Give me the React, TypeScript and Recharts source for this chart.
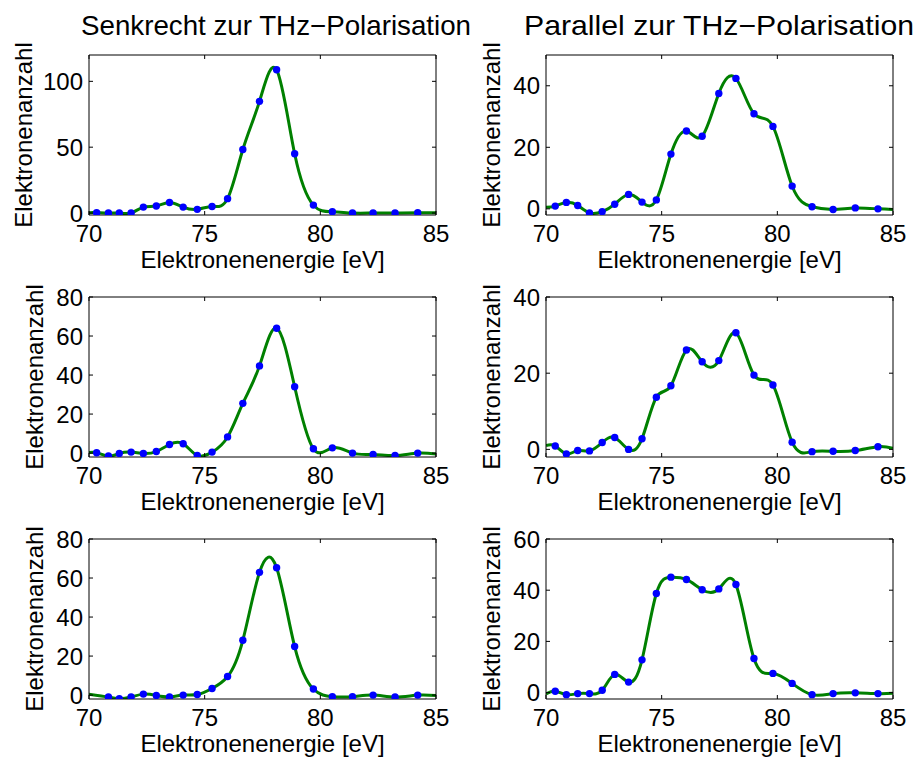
import React from 'react';
import { ComposedChart, Line, Scatter, XAxis, YAxis } from 'recharts';

// energy axis of the spectrometer (eV), left and right columns are calibrated slightly differently
const energyLeft = [70.33, 70.84, 71.31, 71.82, 72.35, 72.91, 73.48, 74.07, 74.68, 75.32, 75.99, 76.65, 77.37, 78.11, 78.89, 79.7, 80.52, 81.39, 82.28, 83.23, 84.21];
const energyRight = [70.4, 70.88, 71.37, 71.88, 72.43, 72.97, 73.57, 74.15, 74.77, 75.4, 76.07, 76.75, 77.47, 78.21, 78.99, 79.81, 80.64, 81.5, 82.41, 83.37, 84.35];

// electron counts, senkrecht (left column)
const senkrecht1 = [0.3, 0, 0, 0, 4.5, 5.3, 8, 4.5, 2.8, 5, 10.9, 48.2, 84.8, 108.8, 45, 6, 1, 0, 0, 0, 0.2];
const senkrecht2 = [0.2, -1.5, -0.2, 0.5, -0.2, 0.8, 4.4, 4.8, -1.2, 0.5, 8.3, 25.5, 44.7, 64, 34, 2.2, 2.7, 0, -0.7, -1.2, 0];
const senkrecht3 = [-1, -1.9, -1, 0.5, -0.2, -1, 0, 0.3, 3.4, 9.5, 28.1, 62.9, 65.3, 24.9, 3.1, -0.8, -0.8, 0, -1, 0];

// electron counts, parallel (right column)
const parallel1 = [0.9, 2.1, 1.1, -1.3, -0.9, 1.5, 4.7, 2.2, 2.9, 17.8, 25.3, 23.6, 37.5, 42.4, 30.9, 26.8, 7.4, 0.7, -0.2, 0.3, 0];
const parallel2 = [0.9, -1.2, -0.3, -0.4, 1.8, 3.1, 0, 2.8, 13.7, 16.7, 26.1, 23, 23.3, 30.6, 19.5, 16.9, 1.9, -0.6, -0.5, -0.3, 0.7];
const parallel3 = [0.5, -0.8, -0.4, -0.4, 0.9, 7.1, 4.1, 12.8, 38.7, 45.1, 44.2, 40.2, 40.5, 42.2, 13.3, 7.5, 3.6, -0.8, -0.4, -0.1, -0.4];

// fitted curve values at the plot edges (70 eV, 85 eV)
const edgesS1 = [0.3, 0.3];
const edgesS2 = [0.3, -0.5];
const edgesS3 = [0.5, -0.2];
const edgesP1 = [0.5, -0.2];
const edgesP2 = [1.0, 0.3];
const edgesP3 = [-0.5, -0.3];

const xTicks = [70, 75, 80, 85];
const titles = ['Senkrecht zur THz\u2212Polarisation', 'Parallel zur THz\u2212Polarisation'];

const FONT = '"Liberation Sans", Arial, Helvetica, sans-serif';
const FRAME_W = 347;
const FRAME_H = 160;
const PAD_L = 80;
const PAD_T = 45;
const PAD_R = 25;
const PAD_B = 70;

const BottomTick = ({ x, y, payload }: any) => (
  <g>
    <line x1={x} x2={x} y1={y} y2={y - 4} stroke="#000" />
    <text x={x} y={y + 27} textAnchor="middle" fontSize={24} fontFamily={FONT} fill="#000">
      {payload.value}
    </text>
  </g>
);

const TopTick = ({ x, y }: any) => <line x1={x} x2={x} y1={y} y2={y + 4} stroke="#000" />;

const LeftTick = ({ x, y, payload }: any) => (
  <g>
    <line x1={x} x2={x + 4} y1={y} y2={y} stroke="#000" />
    <text x={x - 6} y={y} dy="0.36em" textAnchor="end" fontSize={24} fontFamily={FONT} fill="#000">
      {payload.value}
    </text>
  </g>
);

const RightTick = ({ x, y }: any) => <line x1={x} x2={x - 4} y1={y} y2={y} stroke="#000" />;

const XTitle = ({ viewBox }: any) => (
  <text
    x={viewBox.x + viewBox.width / 2}
    y={viewBox.y + 53}
    textAnchor="middle"
    fontSize={24}
    fontFamily={FONT}
    fill="#000"
  >
    Elektronenenergie [eV]
  </text>
);

// the label sits further left when the tick labels are wider (MATLAB style)
const YTitle = ({ viewBox, gap }: any) => {
  const cx = viewBox.x + viewBox.width - gap;
  const cy = viewBox.y + viewBox.height / 2;
  return (
    <text
      x={cx}
      y={cy}
      transform={`rotate(-90, ${cx}, ${cy})`}
      textAnchor="middle"
      fontSize={24}
      fontFamily={FONT}
      fill="#000"
    >
      Elektronenanzahl
    </text>
  );
};

const Dot = ({ cx, cy }: any) => <circle cx={cx} cy={cy} r={3.7} fill="#0000ff" />;

interface PanelProps {
  frameX: number;
  frameY: number;
  energy: number[];
  counts: number[];
  edges: number[];
  yDomain: [number, number];
  yTicks: number[];
}

function Panel({ frameX, frameY, energy, counts, edges, yDomain, yTicks }: PanelProps) {
  const dots = counts.map((n, i) => ({ e: energy[i], n }));
  const curve = [{ e: 70, n: edges[0] }, ...dots, { e: 85, n: edges[1] }];
  const axisLine = { stroke: '#000', strokeWidth: 1 };
  const digits = Math.max(...yTicks.map((t) => String(t).length));
  const gap = digits > 2 ? 57 : 46;

  return (
    <div style={{ position: 'absolute', left: frameX - PAD_L, top: frameY - PAD_T }}>
      <ComposedChart
        width={FRAME_W + PAD_L + PAD_R}
        height={FRAME_H + PAD_T + PAD_B}
        margin={{ top: 0, right: 0, bottom: 0, left: 0 }}
      >
        <XAxis
          xAxisId="b"
          dataKey="e"
          type="number"
          domain={[70, 85]}
          ticks={xTicks}
          interval={0}
          allowDataOverflow
          height={PAD_B}
          tickSize={0}
          tickMargin={0}
          tickLine={false}
          axisLine={axisLine}
          tick={<BottomTick />}
          label={<XTitle />}
        />
        <XAxis
          xAxisId="t"
          orientation="top"
          dataKey="e"
          type="number"
          domain={[70, 85]}
          ticks={xTicks}
          interval={0}
          allowDataOverflow
          height={PAD_T}
          tickSize={0}
          tickMargin={0}
          tickLine={false}
          axisLine={axisLine}
          tick={<TopTick />}
        />
        <YAxis
          yAxisId="l"
          dataKey="n"
          type="number"
          domain={yDomain}
          ticks={yTicks}
          interval={0}
          allowDataOverflow
          width={PAD_L}
          tickSize={0}
          tickMargin={0}
          tickLine={false}
          axisLine={axisLine}
          tick={<LeftTick />}
          label={<YTitle gap={gap} />}
        />
        <YAxis
          yAxisId="r"
          orientation="right"
          dataKey="n"
          type="number"
          domain={yDomain}
          ticks={yTicks}
          interval={0}
          allowDataOverflow
          width={PAD_R}
          tickSize={0}
          tickMargin={0}
          tickLine={false}
          axisLine={axisLine}
          tick={<RightTick />}
        />
        <Scatter
          data={dots}
          xAxisId="t"
          yAxisId="r"
          fill="#0000ff"
          shape={<Dot />}
          isAnimationActive={false}
        />
        <Line
          data={curve}
          dataKey="n"
          xAxisId="b"
          yAxisId="l"
          type="natural"
          stroke="#008000"
          strokeWidth={3}
          dot={false}
          activeDot={false}
          isAnimationActive={false}
        />
      </ComposedChart>
    </div>
  );
}

export default function App() {
  const leftX = 89;
  const rightX = 546;
  return (
    <div
      style={{
        position: 'absolute',
        left: 0,
        top: 0,
        width: 917,
        height: 759,
        background: '#fff',
        fontFamily: FONT,
        overflow: 'hidden',
      }}
    >
      <svg width={917} height={50} style={{ position: 'absolute', left: 0, top: 0 }}>
        {titles.map((t, i) => (
          <text
            key={t}
            x={i === 0 ? 276 : 719}
            y={35}
            textAnchor="middle"
            fontSize={28}
            fontFamily={FONT}
            textLength={390}
            lengthAdjust="spacingAndGlyphs"
            fill="#000"
          >
            {t}
          </text>
        ))}
      </svg>

      <Panel frameX={leftX} frameY={55} energy={energyLeft} counts={senkrecht1} edges={edgesS1} yDomain={[-1.5, 120]} yTicks={[0, 50, 100]} />
      <Panel frameX={rightX} frameY={55} energy={energyRight} counts={parallel1} edges={edgesP1} yDomain={[-2, 50]} yTicks={[0, 20, 40]} />
      <Panel frameX={leftX} frameY={297} energy={energyLeft} counts={senkrecht2} edges={edgesS2} yDomain={[-2, 80]} yTicks={[0, 20, 40, 60, 80]} />
      <Panel frameX={rightX} frameY={297} energy={energyRight} counts={parallel2} edges={edgesP2} yDomain={[-2, 40]} yTicks={[0, 20, 40]} />
      <Panel frameX={leftX} frameY={539} energy={energyLeft.slice(1)} counts={senkrecht3} edges={edgesS3} yDomain={[-2, 80]} yTicks={[0, 20, 40, 60, 80]} />
      <Panel frameX={rightX} frameY={539} energy={energyRight} counts={parallel3} edges={edgesP3} yDomain={[-2.5, 60]} yTicks={[0, 20, 40, 60]} />
    </div>
  );
}
